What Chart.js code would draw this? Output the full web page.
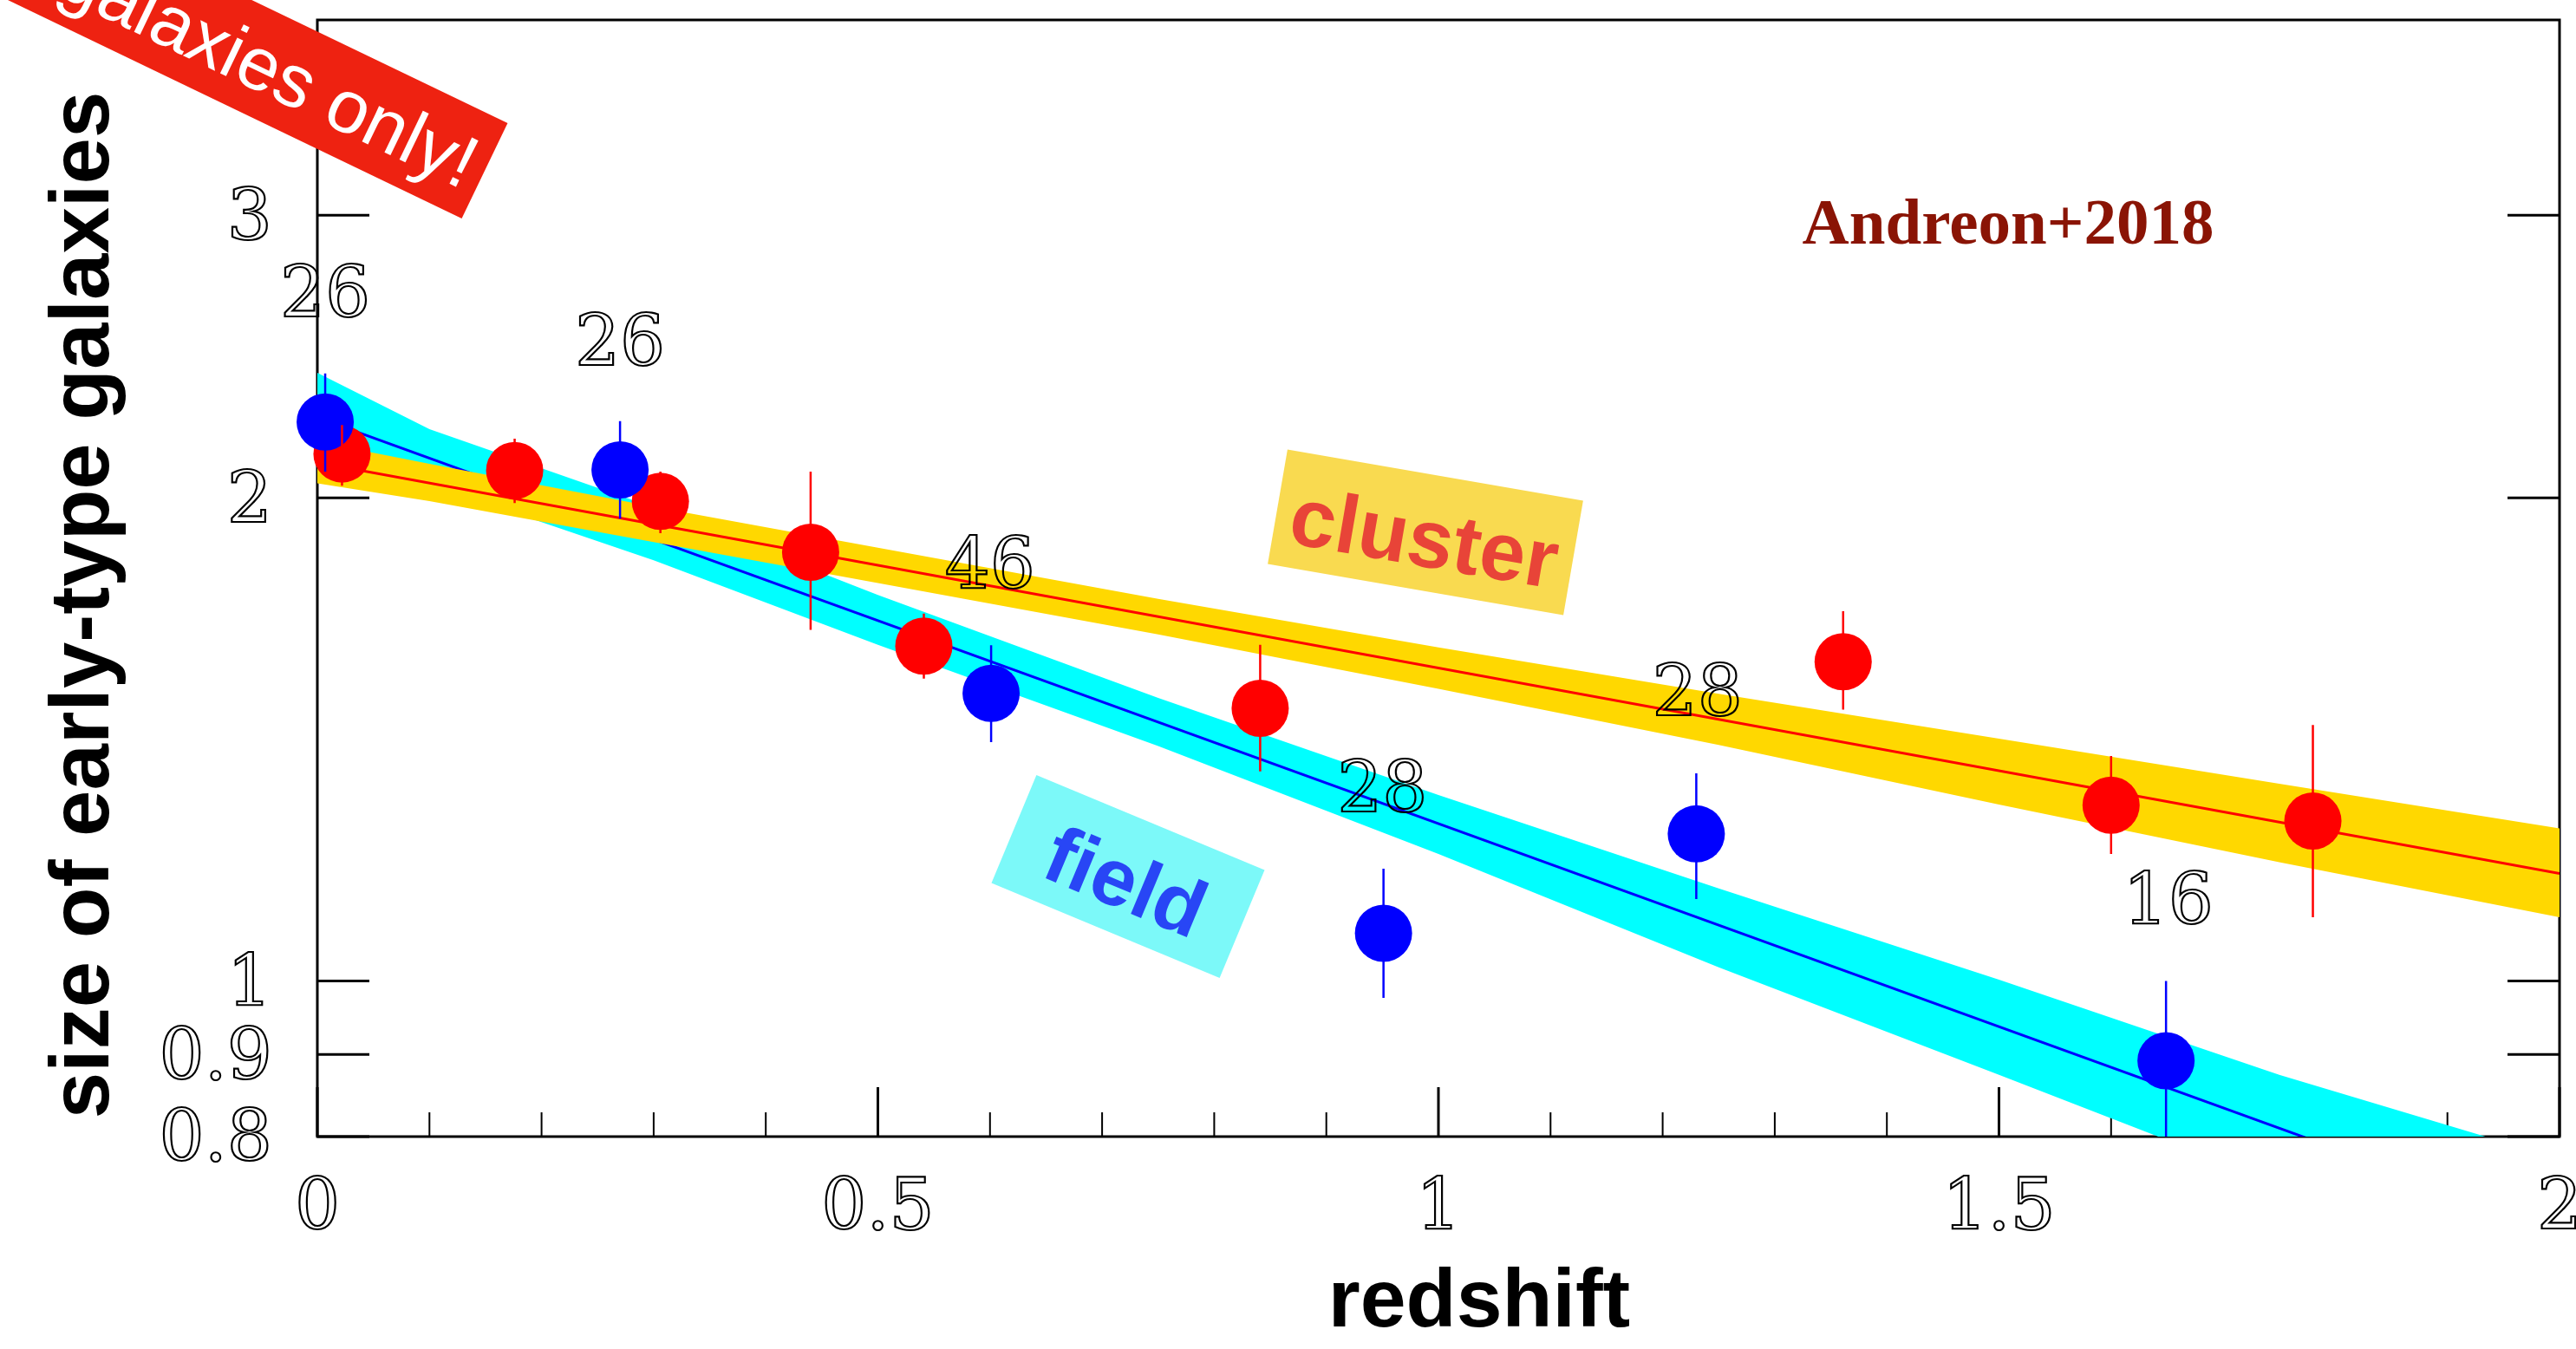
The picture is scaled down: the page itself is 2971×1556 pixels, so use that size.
<!DOCTYPE html>
<html lang="en">
<head>
<meta charset="UTF-8">
<title>Size of early-type galaxies vs redshift</title>
<script src="https://cdn.jsdelivr.net/npm/chart.js@4.4.1/dist/chart.umd.min.js"></script>
<style>
  html, body { margin: 0; padding: 0; background: #fff; overflow: hidden; }
  #chart { display: block; }
</style>
</head>
<body>
<canvas id="chart" width="2971" height="1556"></canvas>
<script>
// cluster galaxies (red points)
const clusterZ = [0.022, 0.176, 0.306, 0.440, 0.541, 0.841, 1.361, 1.600, 1.780];
const clusterSize = [2.13, 2.08, 1.99, 1.85, 1.617, 1.479, 1.581, 1.287, 1.258];
const clusterLo = [2.035, 1.985, 1.901, 1.655, 1.543, 1.351, 1.476, 1.200, 1.096];
const clusterHi = [2.22, 2.177, 2.077, 2.077, 1.694, 1.620, 1.700, 1.381, 1.444];

// field galaxies (blue points)
const fieldZ = [0.007, 0.270, 0.601, 0.951, 1.230, 1.649];
const fieldSize = [2.23, 2.082, 1.511, 1.071, 1.235, 0.892];
const fieldLo = [2.077, 1.941, 1.409, 0.976, 1.125, 0.78];
const fieldHi = [2.391, 2.233, 1.619, 1.175, 1.347, 1.0];

// fitted trends
const fitZ = [0, 2];
const clusterFit = [2.104, 1.167];
const fieldFit = [2.244, 0.700];

// 68% bands around the fits
const bandZ = [0, 0.1, 0.3, 0.5, 0.75, 1.0, 1.25, 1.5, 1.75, 2.0];
const clusterBandHi = [2.168, 2.100, 1.975, 1.862, 1.730, 1.614, 1.510, 1.416, 1.327, 1.245];
const clusterBandLo = [2.042, 1.991, 1.877, 1.770, 1.644, 1.521, 1.403, 1.288, 1.186, 1.096];
const fieldBandHi = [2.393, 2.207, 1.973, 1.740, 1.501, 1.306, 1.142, 1.002, 0.874, 0.775];
const fieldBandLo = [2.133, 2.040, 1.829, 1.620, 1.401, 1.200, 1.020, 0.874, 0.748, 0.638];

// number of galaxies in each sample
const countText = ['26', '26', '46', '28', '28', '16'];
const countZ = [0.007, 0.270, 0.600, 0.950, 1.231, 1.651];
const countSize = [2.68, 2.50, 1.817, 1.317, 1.512, 1.122];

// axis ticks
const xTickValues = [0, 0.5, 1, 1.5, 2];
const xMinorTicks = [0.1, 0.2, 0.3, 0.4, 0.6, 0.7, 0.8, 0.9, 1.1, 1.2, 1.3, 1.4, 1.6, 1.7, 1.8, 1.9];
const yTickValues = [0.8, 0.9, 1, 2, 3];

const RED = 'rgb(255,0,0)';
const BLUE = 'rgb(0,0,255)';
const GOLD = 'rgb(255,216,0)';
const CYAN = 'rgb(0,255,255)';
const SERIF = '"DejaVu Serif", "Liberation Serif", serif';
const SANS = '"Liberation Sans", Arial, sans-serif';
const NUM_SIZE = 82;

const pts = (xs, ys) => xs.map((x, i) => ({ x: x, y: ys[i] }));

// box with inward ticks, drawn under the data
const frame = {
    id: 'frame',
    beforeDatasetsDraw(chart) {
        const { ctx, chartArea: a, scales: { x, y } } = chart;
        ctx.save();
        ctx.strokeStyle = '#000';
        ctx.lineWidth = 3;
        ctx.strokeRect(a.left, a.top, a.right - a.left, a.bottom - a.top);
        ctx.beginPath();
        yTickValues.forEach(v => {
            const py = y.getPixelForValue(v);
            ctx.moveTo(a.left, py); ctx.lineTo(a.left + 60, py);
            ctx.moveTo(a.right, py); ctx.lineTo(a.right - 60, py);
        });
        xTickValues.forEach(v => {
            const px = x.getPixelForValue(v);
            ctx.moveTo(px, a.bottom); ctx.lineTo(px, a.bottom - 57);
        });
        ctx.stroke();
        ctx.lineWidth = 2;
        ctx.beginPath();
        xMinorTicks.forEach(v => {
            const px = x.getPixelForValue(v);
            ctx.moveTo(px, a.bottom); ctx.lineTo(px, a.bottom - 28);
        });
        ctx.stroke();
        ctx.restore();
    }
};

function errorBars(ctx, x, y, zs, lo, hi, color) {
    ctx.strokeStyle = color;
    ctx.lineWidth = 2.5;
    ctx.beginPath();
    zs.forEach((z, i) => {
        const px = x.getPixelForValue(z);
        ctx.moveTo(px, y.getPixelForValue(lo[i]));
        ctx.lineTo(px, y.getPixelForValue(hi[i]));
    });
    ctx.stroke();
}

function tag(ctx, cx, cy, w, h, deg, fill, text, color, size) {
    ctx.save();
    ctx.translate(cx, cy);
    ctx.rotate(deg * Math.PI / 180);
    ctx.fillStyle = fill;
    ctx.fillRect(-w / 2, -h / 2, w, h);
    ctx.fillStyle = color;
    ctx.font = 'bold ' + size + 'px ' + SANS;
    ctx.textAlign = 'center';
    ctx.textBaseline = 'alphabetic';
    ctx.fillText(text, 0, size * 0.36 + 5);
    ctx.restore();
}

const notes = {
    id: 'notes',
    afterDatasetsDraw(chart) {
        const { ctx, chartArea: a, scales: { x, y } } = chart;
        ctx.save();
        ctx.beginPath();
        ctx.rect(a.left, a.top, a.right - a.left, a.bottom - a.top);
        ctx.clip();
        errorBars(ctx, x, y, clusterZ, clusterLo, clusterHi, RED);
        errorBars(ctx, x, y, fieldZ, fieldLo, fieldHi, BLUE);
        ctx.restore();

        // hollow digits, like the plotting package's stroked font
        ctx.save();
        ctx.strokeStyle = '#000';
        ctx.lineWidth = 2.2;
        ctx.font = NUM_SIZE + 'px ' + SERIF;
        ctx.textAlign = 'center';
        ctx.textBaseline = 'middle';
        countText.forEach((t, i) => {
            ctx.strokeText(t, x.getPixelForValue(countZ[i]), y.getPixelForValue(countSize[i]) + 6);
        });

        ctx.fillStyle = '#8a1405';
        ctx.font = 'bold 75px "Liberation Serif", serif';
        ctx.textBaseline = 'alphabetic';
        ctx.fillText('Andreon+2018', 2316, 281);
        ctx.restore();

        tag(ctx, 1644, 614, 346, 134, 9.8, '#f9da50', 'cluster', '#e84438', 95);
        tag(ctx, 1301, 1011, 285, 135, 22.6, '#7cf9f9', 'field', '#2846f5', 93);
    },
    afterDraw(chart) {
        const ctx = chart.ctx;
        ctx.save();
        ctx.fillStyle = '#000';
        ctx.font = 'bold 95px ' + SANS;
        ctx.textAlign = 'center';
        ctx.textBaseline = 'alphabetic';
        ctx.fillText('redshift', 1706, 1530);
        ctx.translate(125, 698);
        ctx.rotate(-Math.PI / 2);
        ctx.font = 'bold 96px ' + SANS;
        ctx.fillText('size of early-type galaxies', 0, 0);
        ctx.restore();

        // red banner in the corner
        ctx.save();
        ctx.translate(559, 197);
        ctx.rotate(25.7 * Math.PI / 180);
        ctx.fillStyle = '#ee2211';
        ctx.fillRect(-1100, -61, 1100, 122);
        ctx.fillStyle = '#fff';
        ctx.font = '86px ' + SANS;
        ctx.textAlign = 'right';
        ctx.textBaseline = 'alphabetic';
        ctx.fillText('galaxies only!', -14, 31);
        ctx.restore();
    }
};

const bg = {
    id: 'bg',
    beforeDraw(chart) {
        const ctx = chart.ctx;
        ctx.save();
        ctx.fillStyle = '#fff';
        ctx.fillRect(0, 0, chart.width, chart.height);
        ctx.restore();
    }
};

const tickFont = { family: SERIF, size: NUM_SIZE };

new Chart(document.getElementById('chart'), {
    type: 'scatter',
    data: {
        datasets: [
            { label: 'field', data: pts(fieldZ, fieldSize), backgroundColor: BLUE, pointRadius: 33, pointHoverRadius: 33, pointBorderWidth: 0, order: 1, clip: false },
            { label: 'cluster', data: pts(clusterZ, clusterSize), backgroundColor: RED, pointRadius: 33, pointHoverRadius: 33, pointBorderWidth: 0, order: 2, clip: false },
            { type: 'line', label: 'cluster fit', data: pts(fitZ, clusterFit), borderColor: RED, borderWidth: 3, pointRadius: 0, fill: false, order: 3 },
            { type: 'line', label: 'cluster band', data: pts(bandZ, clusterBandHi), borderColor: 'transparent', borderWidth: 0, backgroundColor: GOLD, pointRadius: 0, fill: '+1', order: 4 },
            { type: 'line', label: 'cluster band lo', data: pts(bandZ, clusterBandLo), borderColor: 'transparent', borderWidth: 0, pointRadius: 0, fill: false, order: 4 },
            { type: 'line', label: 'field fit', data: pts(fitZ, fieldFit), borderColor: BLUE, borderWidth: 3, pointRadius: 0, fill: false, order: 5 },
            { type: 'line', label: 'field band', data: pts(bandZ, fieldBandHi), borderColor: 'transparent', borderWidth: 0, backgroundColor: CYAN, pointRadius: 0, fill: '+1', order: 6 },
            { type: 'line', label: 'field band lo', data: pts(bandZ, fieldBandLo), borderColor: 'transparent', borderWidth: 0, pointRadius: 0, fill: false, order: 6 }
        ]
    },
    options: {
        responsive: false,
        animation: false,
        devicePixelRatio: 1,
        // no extra room for the big markers: the frame sits where the original has it
        layout: { autoPadding: false, padding: { top: 23, right: 19, bottom: 0, left: 0 } },
        elements: { line: { tension: 0 } },
        plugins: { legend: { display: false }, tooltip: { enabled: false } },
        scales: {
            x: {
                type: 'linear', min: 0, max: 2,
                grid: { display: false, drawTicks: false },
                border: { display: false },
                afterFit: s => { s.height = 245; s.paddingLeft = 0; s.paddingRight = 0; },
                afterBuildTicks: s => { s.ticks = xTickValues.map(v => ({ value: v })); },
                ticks: { autoSkip: false, maxRotation: 0, padding: 37, color: 'rgba(0,0,0,0)', textStrokeColor: '#000', textStrokeWidth: 2.2, font: tickFont, callback: v => String(v) }
            },
            y: {
                type: 'logarithmic', min: 0.8, max: 3.97,
                grid: { display: false, drawTicks: false },
                border: { display: false },
                afterFit: s => { s.width = 366; s.paddingTop = 0; s.paddingBottom = 0; },
                afterBuildTicks: s => { s.ticks = yTickValues.map(v => ({ value: v })); },
                ticks: { autoSkip: false, padding: 52, labelOffset: 7, color: 'rgba(0,0,0,0)', textStrokeColor: '#000', textStrokeWidth: 2.2, font: tickFont, callback: v => String(v) }
            }
        }
    },
    plugins: [bg, frame, notes]
});
</script>
</body>
</html>
